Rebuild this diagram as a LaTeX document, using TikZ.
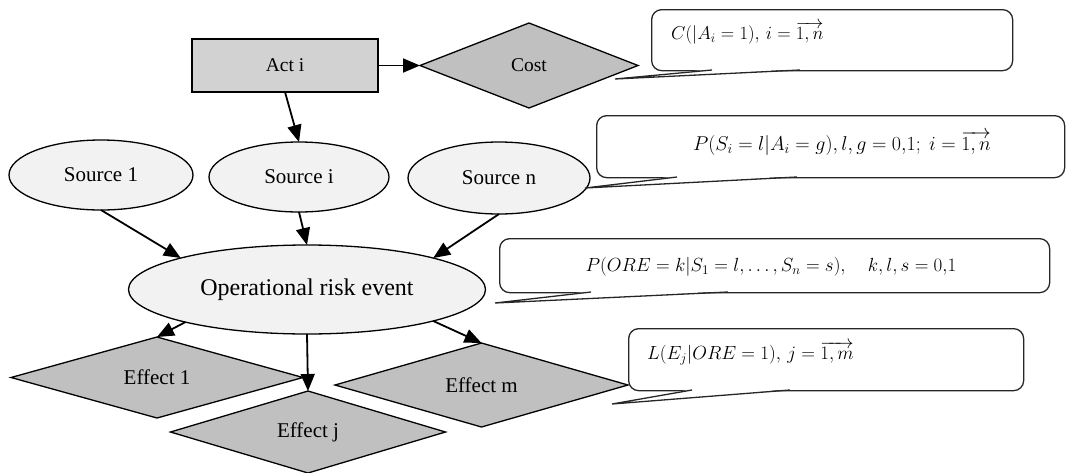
\RequirePackage{fix-cm}
\documentclass[tikz,border=0pt]{standalone}
\usepackage{fontspec}
\setmainfont{Liberation Serif}
\usetikzlibrary{shapes.geometric,arrows.meta}
\definecolor{diamgray}{RGB}{192,192,192}
\definecolor{actgray}{RGB}{210,210,210}
\definecolor{ellgray}{RGB}{242,242,242}
\begin{document}
\begin{tikzpicture}[x=1pt,y=-1pt,
  base/.style={draw=black, line width=1.3pt, inner sep=0pt, outer sep=0pt},
  actbox/.style={base, rectangle, fill=actgray, minimum width=186pt, minimum height=53pt, font=\fontsize{19.5}{22}\selectfont},
  dia/.style={base, diamond, fill=diamgray, aspect=3.5, font=\fontsize{21}{24}\selectfont},
  ell/.style={base, ellipse, fill=ellgray, font=\fontsize{21}{24}\selectfont},
  arr/.style={line width=1.8pt, -{Triangle[length=17pt,width=14pt]}},
  callbox/.style={draw=black!85, line width=1.3pt, rounded corners=10pt, fill=white, anchor=north west, inner sep=0pt},
  tail/.style={draw=black!85, line width=1.3pt, line join=miter},
  mathtxt/.style={inner sep=0pt, font=\fontsize{19}{21}\selectfont},
]
\useasboundingbox (0,0) rectangle (1069,472);

% main nodes
\node[actbox] (act) at (285,65.5) {Act i};
\node[dia, minimum width=218pt, minimum height=85pt, font=\fontsize{19.5}{22}\selectfont] (cost) at (529,65.5) {Cost};
\node[ell, minimum width=184pt, minimum height=70pt] (src1) at (101,175) {Source 1};
\node[ell, minimum width=180pt, minimum height=70pt] (srci) at (299,177) {Source i};
\node[ell, minimum width=182pt, minimum height=72pt] (srcn) at (499,178) {Source n};
\node[ell, minimum width=357pt, minimum height=89pt, font=\fontsize{24}{28}\selectfont] (ore) at (307,289.5) {Operational risk event};
\node[dia, minimum width=292pt, minimum height=81pt] (eff1) at (157,377.5) {Effect 1};
\node[dia, minimum width=275pt, minimum height=82pt] (effj) at (308,432) {Effect j};
\node[dia, minimum width=293pt, minimum height=84pt] (effm) at (481.5,385) {Effect m};

% connectors
\draw[arr] (act.east) -- (cost.west);
\draw[arr] (act.south) -- (srci.north);
\draw[arr] (src1.south) -- (ore.166);
\draw[arr] (srci.south) -- (ore.north);
\draw[arr] (srcn.south) -- (ore.14);
\draw[arr] (ore.195) -- (eff1.north);
\draw[arr] (ore.south) -- (effj.north);
\draw[arr] (ore.-14.7) -- (effm.north);

% callout 1
\node[callbox, minimum width=361pt, minimum height=61pt] (c1) at (651,9) {};
\coordinate (c1tip) at (615,79);
\fill[white] (712,69.2) -- (800,69.2) -- (c1tip) -- cycle;
\draw[tail] (712,70) -- (c1tip) -- (800,70);
\node[mathtxt, anchor=west, font=\fontsize{18.6}{21}\selectfont] (t1) at (671,33) {$C(|A_i=1),\, i=\overrightarrow{1,n}$};

% callout 2
\node[callbox, minimum width=468pt, minimum height=62pt] (c2) at (596,115) {};
\coordinate (c2tip) at (585,188);
\fill[white] (677,176.2) -- (797,176.2) -- (c2tip) -- cycle;
\draw[tail] (677,177) -- (c2tip) -- (797,177);
\node[mathtxt, font=\fontsize{20}{22}\selectfont] (t2) at (842,143) {$P(S_i=l|A_i=g),l,g=0{,}1;\ i=\overrightarrow{1,n}$};

% callout 3
\node[callbox, minimum width=550pt, minimum height=54pt] (c3) at (499,238) {};
\coordinate (c3tip) at (495,303);
\fill[white] (591,291.2) -- (728,291.2) -- (c3tip) -- cycle;
\draw[tail] (591,292) -- (c3tip) -- (728,292);
\node[mathtxt] (t3) at (771,267) {$P(ORE=k|S_1=l,\dots,S_n=s),\quad k,l,s=0{,}1$};

% callout 4
\node[callbox, minimum width=395pt, minimum height=62pt] (c4) at (628,328) {};
\coordinate (c4tip) at (612,404);
\fill[white] (692,389.2) -- (790,389.2) -- (c4tip) -- cycle;
\draw[tail] (692,390) -- (c4tip) -- (790,390);
\node[mathtxt, anchor=west] (t4) at (647,353) {$L(E_j|ORE=1),\, j=\overrightarrow{1,m}$};
\end{tikzpicture}
\end{document}
